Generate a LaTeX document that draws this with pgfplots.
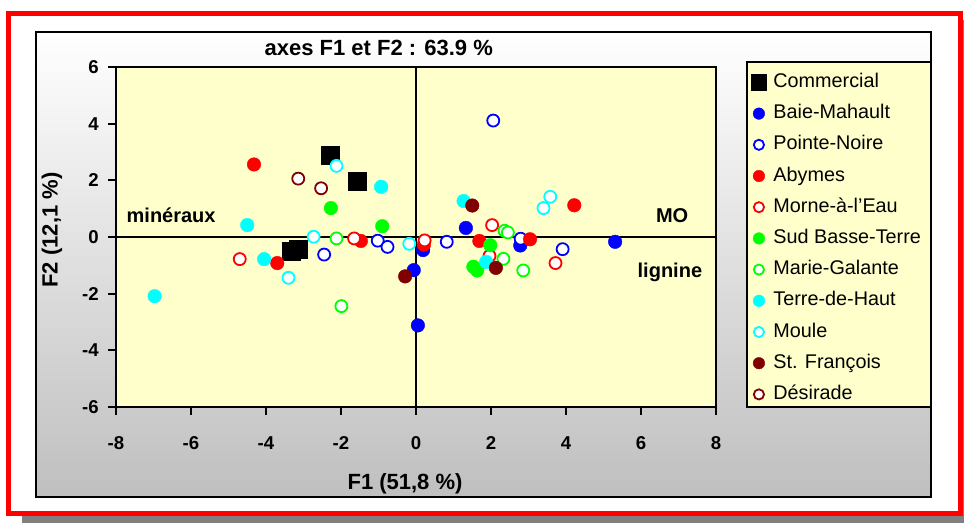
\documentclass[border=0pt]{standalone}
\usepackage{fontspec}
\setmainfont{Liberation Sans}
\usepackage{pgfplots}
\pgfplotsset{compat=1.18}
\definecolor{plotbg}{HTML}{FFFFCC}
\definecolor{dred}{HTML}{800000}
\definecolor{pgreen}{HTML}{00FF00}
\definecolor{pcyan}{HTML}{00FFFF}
\definecolor{pblue}{HTML}{0000FF}
\definecolor{pred}{HTML}{FF0000}
\pgfplotsset{
  filled/.style={only marks, mark=*, mark size=3.4pt, mark options={draw=#1, fill=#1, line width=0.2pt}},
  open/.style={only marks, mark=*, mark size=3pt, mark options={draw=#1, fill=white, line width=0.9pt}},
}
\begin{document}
\begin{tikzpicture}[x=0.5pt,y=0.5pt]
\useasboundingbox (0,0) rectangle (964,523);
% shadow and red border
\fill[gray] (22,0) rectangle (964,503);
\draw[pred, line width=2.5pt, fill=white] (8.5,9.5) rectangle (960,509.3);
% inner frame with gradient
\shade[top color=white, bottom color=gray!50] (36,26) rectangle (931,491);
\draw[line width=0.8pt] (36,26) rectangle (931,491);
% legend box
\draw[line width=0.7pt, fill=plotbg] (747,116) rectangle (931,461);
\begin{axis}[
  at={(58pt,58pt)}, anchor=south west,
  scale only axis, width=300pt, height=170pt,
  xmin=-8, xmax=8, ymin=-6, ymax=6,
  xtick={-8,-6,-4,-2,0,2,4,6,8},
  xticklabels={-8,-6,-4,-2,0,2,4,6,8},
  ytick={-6,-4,-2,0,2,4,6},
  yticklabels={-6,-4,-2,0,2,4,6},
  tick pos=left, tick align=outside, major tick length=4pt,
  every tick/.style={black, line width=1pt},
  axis line style={line width=1.2pt},
  axis background/.style={fill=plotbg},
  axis on top,
  tick label style={font=\bfseries\fontsize{9.3}{11}\selectfont, inner sep=0pt},
  xticklabel style={anchor=center, yshift=-14pt},
  yticklabel style={anchor=east, xshift=-4.5pt},
  title={axes F1 et F2 : 63.9 \%},
  title style={at={(axis description cs:0.438,1.0207)}, anchor=center, font=\bfseries\fontsize{11}{13}\selectfont},
  xlabel={F1 (51,8 \%)},
  xlabel style={at={(axis description cs:0.4817,-0.2265)}, anchor=center, font=\bfseries\fontsize{11}{13}\selectfont},
  ylabel={F2 (12,1 \%)},
  ylabel style={at={(axis description cs:-0.1067,0.5206)}, anchor=center, rotate=0, font=\bfseries\fontsize{11}{13}\selectfont},
  legend style={at={(axis description cs:1.0517,1.0147)}, anchor=north west, draw=none, fill=none,
    inner xsep=1.5pt, inner ysep=5.5pt, row sep=6.6pt,
    font=\fontsize{9.9}{11}\selectfont,
    nodes={inner sep=0pt, text height=7pt, text depth=2pt},
    /tikz/every odd column/.style={column sep=1.5pt}},
  legend cell align=left,
  legend image code/.code={\path[draw=none,fill=none] (0pt,-3pt) rectangle (10pt,3pt); \draw[#1, scale=0.85] plot coordinates {(5pt,0pt)};},
]
\addplot[black, line width=0.6pt, forget plot] coordinates {(-8,0) (8,0)};
\addplot[black, line width=0.6pt, forget plot] coordinates {(0,-6) (0,6)};
% Commercial
\addplot[only marks, mark=square*, mark size=4.5pt, mark options={draw=black, fill=black}] coordinates {
(-2.27,2.88) (-1.55,1.96) (-3.14,-0.43) (-3.31,-0.52)};
\addlegendentry{Commercial}
% Baie-Mahault
\addplot[filled=pblue] coordinates {
(1.33,0.32) (0.19,-0.46) (-0.06,-1.17) (0.05,-3.12) (2.78,-0.30) (5.31,-0.17)};
\addlegendentry{Baie-Mahault}
% Pointe-Noire
\addplot[open=pblue] coordinates {
(2.06,4.11) (-1.02,-0.13) (-0.76,-0.35) (-2.45,-0.62) (0.82,-0.17) (2.79,-0.06) (3.91,-0.43)};
\addlegendentry{Pointe-Noire}
% Abymes
\addplot[filled=pred] coordinates {
(-4.32,2.56) (-1.47,-0.14) (-3.70,-0.92) (0.21,-0.27) (1.69,-0.14) (3.04,-0.08) (4.22,1.12)};
\addlegendentry{Abymes}
% Morne-a-l'Eau
\addplot[open=pred] coordinates {
(-4.70,-0.78) (-1.65,-0.05) (0.23,-0.12) (2.03,0.42) (1.96,-0.67) (3.72,-0.92)};
\addlegendentry{Morne-à-l'Eau}
% Sud Basse-Terre
\addplot[filled=pgreen] coordinates {
(-2.27,1.02) (-0.90,0.38) (1.98,-0.29) (1.53,-1.05) (1.63,-1.18)};
\addlegendentry{Sud Basse-Terre}
% Marie-Galante
\addplot[open=pgreen] coordinates {
(-2.12,-0.05) (-1.99,-2.44) (2.36,0.22) (2.45,0.16) (2.33,-0.77) (2.86,-1.18)};
\addlegendentry{Marie-Galante}
% Terre-de-Haut
\addplot[filled=pcyan] coordinates {
(-6.97,-2.09) (-4.50,0.42) (-4.05,-0.78) (-0.93,1.77) (1.27,1.27) (1.87,-0.88)};
\addlegendentry{Terre-de-Haut}
% Moule
\addplot[open=pcyan] coordinates {
(-2.12,2.51) (-2.73,0.01) (-3.40,-1.44) (-0.18,-0.24) (3.40,1.02) (3.58,1.42)};
\addlegendentry{Moule}
% St. Francois
\addplot[filled=dred] coordinates {
(1.50,1.11) (-0.29,-1.39) (2.13,-1.09)};
\addlegendentry{St. François}
% Desirade
\addplot[open=dred] coordinates {
(-3.14,2.06) (-2.53,1.72)};
\addlegendentry{Désirade}
\node[font=\bfseries\fontsize{10}{12}\selectfont] at (axis cs:-6.53,0.77) {minéraux};
\node[font=\bfseries\fontsize{10}{12}\selectfont] at (axis cs:6.83,0.77) {MO};
\node[font=\bfseries\fontsize{10}{12}\selectfont] at (axis cs:6.77,-1.26) {lignine};
\end{axis}
\end{tikzpicture}
\end{document}
